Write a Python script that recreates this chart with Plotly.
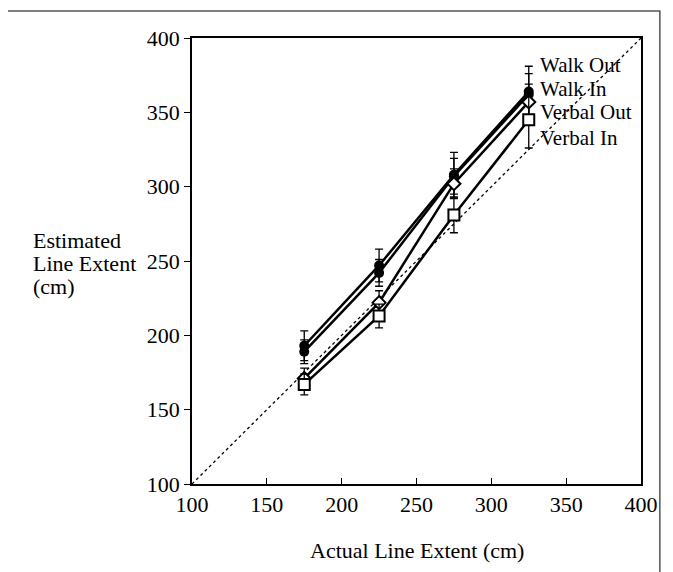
import plotly.graph_objects as go

actual = [175, 225, 275, 325]
series_names = ["Walk Out", "Walk In", "Verbal Out", "Verbal In"]
walk_out = [193, 247, 308, 364]
walk_in = [189, 242, 307, 362]
verbal_out = [171, 222, 302, 357]
verbal_in = [167, 213, 281, 345]
walk_out_err = [10, 11, 15, 17]
walk_in_err = [8, 9, 12, 14]
verbal_out_err = [7, 8, 10, 12]
verbal_in_err = [7, 8, 12, 19]
label_y = [382, 366, 350, 333]
x_ticks = [100, 150, 200, 250, 300, 350, 400]
y_ticks = [100, 150, 200, 250, 300, 350, 400]
y_title_lines = ["Estimated", "Line Extent", "(cm)"]

values = [walk_out, walk_in, verbal_out, verbal_in]
errors = [walk_out_err, walk_in_err, verbal_out_err, verbal_in_err]
markers = [
    dict(symbol="circle", color="black", size=10),
    dict(symbol="circle", color="black", size=10),
    dict(symbol="diamond", color="white", size=10, line=dict(color="black", width=2)),
    dict(symbol="square", color="white", size=11, line=dict(color="black", width=2)),
]

FONT = "Liberation Serif, Times New Roman, serif"

fig = go.Figure()
fig.add_trace(go.Scatter(x=[100, 400], y=[100, 400], mode="lines",
                         line=dict(color="black", width=1.3, dash="dot"),
                         showlegend=False, hoverinfo="skip"))
for name, v, e, m in zip(series_names, values, errors, markers):
    fig.add_trace(go.Scatter(
        x=actual, y=v, mode="lines+markers", name=name,
        line=dict(color="black", width=2.5), marker=m,
        error_y=dict(type="data", array=e, visible=True, color="black",
                     thickness=1.3, width=4),
        showlegend=False))

for name, ly in zip(series_names, label_y):
    fig.add_annotation(x=331, y=ly, text=name, showarrow=False, xanchor="left",
                       yanchor="middle", font=dict(family=FONT, size=21, color="black"))

fig.add_annotation(xref="paper", yref="paper", x=0.5, y=-0.148, text="Actual Line Extent (cm)",
                   showarrow=False, xanchor="center", yanchor="middle",
                   font=dict(family=FONT, size=22, color="black"))
for txt, py in zip(y_title_lines, [0.547, 0.494, 0.442]):
    fig.add_annotation(xref="paper", yref="paper", x=-0.358, y=py, text=txt,
                       showarrow=False, xanchor="left", yanchor="middle",
                       font=dict(family=FONT, size=22, color="black"))

# outer frame
fig.add_shape(type="rect", xref="paper", yref="paper", x0=-0.412, x1=1.042,
              y0=-0.25, y1=1.0605, line=dict(color="#555", width=1.5))

fig.update_xaxes(range=[100, 400], tickvals=x_ticks, showline=True, linecolor="black",
                 linewidth=1.5, mirror=True, ticks="inside", ticklen=6, tickcolor="black",
                 showgrid=False, zeroline=False,
                 tickfont=dict(family=FONT, size=22, color="black"))
fig.update_yaxes(range=[100, 400], tickvals=y_ticks, showline=True, linecolor="black",
                 linewidth=1.5, mirror=True, ticks="outside", ticklen=6, tickcolor="black",
                 showgrid=False, zeroline=False,
                 tickfont=dict(family=FONT, size=22, color="black"))

fig.update_layout(width=673, height=572, margin=dict(l=184, r=40, t=30, b=96),
                  plot_bgcolor="white", paper_bgcolor="white")
fig.write_html("out.html")
